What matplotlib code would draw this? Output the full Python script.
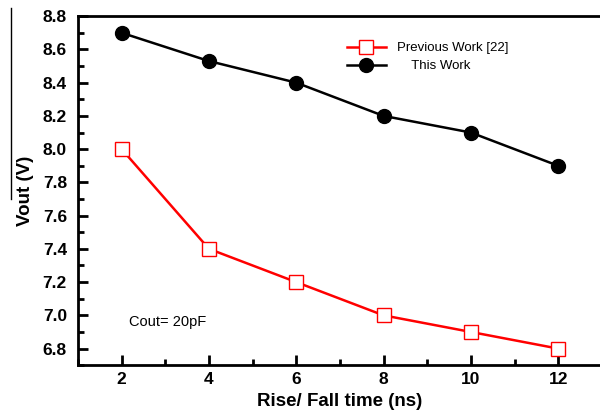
import matplotlib
matplotlib.use("Agg")
import matplotlib.pyplot as plt
from matplotlib.lines import Line2D
from matplotlib.ticker import MultipleLocator

plt.rcParams['font.family'] = ['Liberation Sans', 'DejaVu Sans']

rise_fall = [2, 4, 6, 8, 10, 12]
vout_prev = [8.0, 7.4, 7.2, 7.0, 6.9, 6.8]
vout_this = [8.7, 8.53, 8.4, 8.2, 8.1, 7.9]

fig = plt.figure(figsize=(6, 4.15), dpi=100)
ax = fig.add_axes([0.13, 0.12, 0.873, 0.841])

ax.plot(rise_fall, vout_prev, color='red', lw=1.8, marker='s', ms=10,
        mfc='white', mec='red', mew=1.0, label='Previous Work [22]')
ax.plot(rise_fall, vout_this, color='black', lw=1.8, marker='o', ms=10,
        label='    This Work')

ax.set_xlim(1, 13)
ax.set_ylim(6.7, 8.8)
ax.xaxis.set_minor_locator(MultipleLocator(1))
ax.yaxis.set_major_locator(MultipleLocator(0.2))
ax.yaxis.set_minor_locator(MultipleLocator(0.1))
ax.set_xticks(rise_fall)
ax.tick_params(which='both', direction='in', width=2, top=False, right=False,
               labelsize=12.5)
ax.tick_params(which='major', length=7)
ax.tick_params(axis='y', which='major', pad=8)
ax.tick_params(axis='x', which='major', pad=5)
ax.tick_params(which='minor', length=4)
for lab in ax.get_xticklabels() + ax.get_yticklabels():
    lab.set_fontweight('bold')
for s in ax.spines.values():
    s.set_linewidth(2)

ax.set_xlabel('Rise/ Fall time (ns)', fontsize=13.5, fontweight='bold', labelpad=4)
ax.set_ylabel('Vout (V)', fontsize=13.5, fontweight='bold', labelpad=6)

ax.text(2.17, 6.957, 'Cout= 20pF', fontsize=10.5, va='center')
ax.legend(loc='upper left', bbox_to_anchor=(0.49, 0.96), frameon=False,
          fontsize=9.5, handlelength=3, labelspacing=0.45)

# thin stray line at the left edge of the scan
fig.add_artist(Line2D([0.019, 0.019], [0.52, 0.98], color='black', lw=1))

fig.savefig('out.png', dpi=100)
